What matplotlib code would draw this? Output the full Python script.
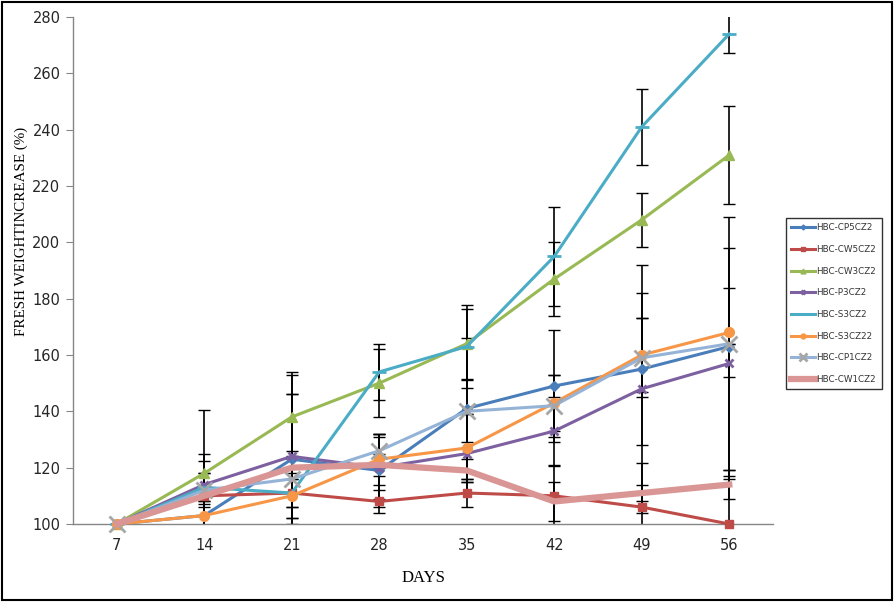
import matplotlib.pyplot as plt
from matplotlib.patches import Rectangle

days = [7, 14, 21, 28, 35, 42, 49, 56]
series_names = ['HBC-CP5CZ2', 'HBC-CW5CZ2', 'HBC-CW3CZ2', 'HBC-P3CZ2',
                'HBC-S3CZ2', 'HBC-S3CZ22', 'HBC-CP1CZ2', 'HBC-CW1CZ2']

cp5 = [100, 103, 123, 119, 141, 149, 155, 163]
cw5 = [100, 110, 111, 108, 111, 110, 106, 100]
cw3 = [100, 118, 138, 150, 164, 187, 208, 231]
p3 = [100, 114, 124, 120, 125, 133, 148, 157]
s3 = [100, 113, 111, 154, 163, 195, 241, 274]
s3_2 = [100, 103, 110, 123, 127, 143, 160, 168]
cp1 = [100, 112, 116, 126, 140, 142, 159, 164]
cw1 = [100, 110, 120, 121, 119, 108, 111, 114]

# standard deviations (read from the caps)
cp5_err = [0, 22, 23, 13, 25, 20, 27, 46]
cw5_err = [0, 2, 5, 4, 5, 10.6, 15.6, 19]
cw3_err = [0, 4.5, 15, 12, 12.5, 13, 9.5, 17.5]
p3_err = [0, 4, 22, 11, 14, 12, 44, 41]
s3_err = [0, 27.5, 43, 10, 14.7, 17.5, 13.5, 6.7]
s3_2_err = [0, 5, 8, 9, 12, 10, 13, 15.8]
cp1_err = [0, 6, 10, 6, 11, 11, 14, 0]
cw1_err = [0, 3, 4, 4, 4, 7, 2.8, 5]

values = [cp5, cw5, cw3, p3, s3, s3_2, cp1, cw1]
errors = [cp5_err, cw5_err, cw3_err, p3_err, s3_err, s3_2_err, cp1_err, cw1_err]
colors = ['#4A7EBB', '#BE4B48', '#98B954', '#7D60A0',
          '#4BACC6', '#F79646', '#95B3D7', '#D99694']
markers = ['D', 's', '^', 'x', '_', 'o', 'x', 's']
msizes = [5, 6, 7, 6, 10, 7, 12, 0]
lwidths = [2.2, 2.2, 2.2, 2.2, 2.2, 2.2, 2.2, 4.5]

fig = plt.figure(figsize=(8.95, 6.02), dpi=100)
ax = fig.add_axes([73 / 895, 78 / 602, 700 / 895, 507 / 602])

for v, e in zip(values, errors):
    ax.errorbar(days, v, yerr=e, fmt='none', ecolor='black', elinewidth=1.2,
                capsize=4, capthick=1, zorder=2)

for name, v, c, m, ms, lw in zip(series_names, values, colors,
                                 markers, msizes, lwidths):
    mec = '#A6A6A6' if name == 'HBC-CP1CZ2' else c
    ax.plot(days, v, color=c, marker=m, markersize=ms, markeredgecolor=mec,
            markeredgewidth=2 if m in ('x', '_') else 1, linewidth=lw,
            label=name, clip_on=False, zorder=3)

ax.set_xlim(3.5, 59.5)
ax.set_ylim(100, 280)
ax.set_xticks(days)
ax.set_yticks(range(100, 281, 20))
ax.tick_params(axis='x', length=0, pad=10, labelsize=10.5, colors='#262626')
ax.tick_params(axis='y', length=5, direction='out', color='#868686',
               labelsize=10.5, labelcolor='#262626', pad=4)
for s in ['top', 'right']:
    ax.spines[s].set_visible(False)
for s in ['left', 'bottom']:
    ax.spines[s].set_color('#868686')
    ax.spines[s].set_linewidth(1)

ax.set_xlabel('DAYS', family='Liberation Serif', fontsize=12, labelpad=12)
ax.set_ylabel('FRESH WEIGHTINCREASE (%)', family='Liberation Serif',
              fontsize=10.8)
ax.yaxis.set_label_coords(-0.064, 0.578)

leg = ax.legend(loc='upper left', bbox_to_anchor=(786 / 895, 1 - 218 / 602),
                bbox_transform=fig.transFigure, fontsize=6.3, frameon=True,
                fancybox=False, edgecolor='black', borderpad=0.6,
                labelspacing=1.45, handlelength=2.7, handletextpad=0.2,
                borderaxespad=0, markerscale=0.5)
leg.get_frame().set_linewidth(1)
for t in leg.get_texts():
    t.set_color('#333333')

fig.patches.append(Rectangle((0.002, 0.003), 0.995, 0.994, fill=False,
                             edgecolor='black', linewidth=1.5,
                             transform=fig.transFigure))

fig.savefig('out.png', dpi=100)
